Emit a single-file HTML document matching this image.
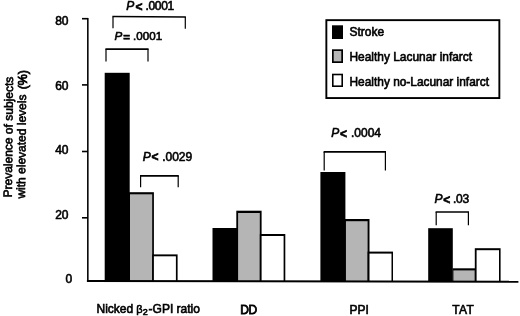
<!DOCTYPE html>
<html><head><meta charset="utf-8"><title>Figure</title>
<style>
html,body{margin:0;padding:0;background:#fff;}
body{width:520px;height:316px;overflow:hidden;}
svg{display:block;}
text{font-family:"Liberation Sans",sans-serif;font-size:12px;fill:#000;stroke:#000;stroke-width:0.6px;}
.i{font-style:italic;}
.b{font-weight:bold;}
</style></head><body>
<svg width="520" height="316" viewBox="0 0 520 316">
<rect width="520" height="316" fill="#fff"/>
<!-- bars -->
<g>
<rect x="129.0" y="192.2" width="24.9" height="89.3" fill="#000"/>
<rect x="130.0" y="194.3" width="22.2" height="87.2" fill="#b5b5b5"/>
<rect x="152.2" y="254.4" width="25.4" height="27.1" fill="#000"/>
<rect x="153.9" y="256.3" width="22.0" height="25.2" fill="#fff"/>
<rect x="104.7" y="72.8" width="25.0" height="208.7" fill="#000"/>
<rect x="236.3" y="210.7" width="25.3" height="70.8" fill="#000"/>
<rect x="238.1" y="213.0" width="21.7" height="68.5" fill="#b5b5b5"/>
<rect x="259.8" y="234.0" width="25.5" height="47.5" fill="#000"/>
<rect x="261.6" y="236.0" width="22.0" height="45.5" fill="#fff"/>
<rect x="212.5" y="228.0" width="24.9" height="53.5" fill="#000"/>
<rect x="345.0" y="219.0" width="24.5" height="62.5" fill="#000"/>
<rect x="345.9" y="221.2" width="21.7" height="60.3" fill="#b5b5b5"/>
<rect x="367.6" y="251.6" width="25.4" height="29.9" fill="#000"/>
<rect x="369.5" y="253.6" width="22.0" height="27.9" fill="#fff"/>
<rect x="320.4" y="172.0" width="25.0" height="109.5" fill="#000"/>
<rect x="452.5" y="268.3" width="24.1" height="13.2" fill="#000"/>
<rect x="453.4" y="270.4" width="21.4" height="11.1" fill="#b5b5b5"/>
<rect x="474.8" y="248.2" width="25.8" height="33.3" fill="#000"/>
<rect x="476.6" y="250.2" width="22.4" height="31.3" fill="#fff"/>
<rect x="428.2" y="228.2" width="24.6" height="53.3" fill="#000"/>
</g>
<!-- axes -->
<g fill="#000">
<rect x="87.05" y="18" width="1.55" height="263.8"/>
<polygon points="86.9,279.95 518.4,280.7 518.4,282.65 86.9,281.9"/>
<rect x="82" y="17.9" width="6" height="1.6"/>
<rect x="82" y="84.1" width="6" height="1.6"/>
<rect x="82" y="150.7" width="6" height="1.6"/>
<rect x="82" y="217" width="6" height="1.6"/>
</g>
<!-- brackets -->
<g fill="none" stroke="#000">
<path d="M112.4 16.5 L185.9 17.0" stroke-width="1.7"/><path d="M113.0 28.2 V16.7 M185.3 16.9 V28.8" stroke-width="1.2"/>
<path d="M105.4 49.2 H148.6" stroke-width="1.7"/><path d="M106.0 61.6 V49.2 M148.0 49.2 V61.6" stroke-width="1.2"/>
<path d="M140.0 175.9 H178.8" stroke-width="1.7"/><path d="M140.6 187.2 V175.9 M178.2 175.9 V187.2" stroke-width="1.2"/>
<path d="M323.6 151.9 H386.0" stroke-width="1.7"/><path d="M324.2 170.6 V151.9 M385.4 151.9 V170.6" stroke-width="1.2"/>
<path d="M435.59999999999997 212.0 H469.0" stroke-width="1.7"/><path d="M436.2 225.2 V212.0 M468.4 212.0 V225.2" stroke-width="1.2"/>
</g>
<!-- legend -->
<rect x="326.35" y="20.15" width="173" height="77.9" fill="#fff" stroke="#000" stroke-width="1.9"/>
<rect x="332" y="25.3" width="11" height="13.7" fill="#000"/>
<rect x="332.85" y="50.15" width="9.3" height="12" fill="#b5b5b5" stroke="#000" stroke-width="1.7"/>
<rect x="332.8" y="74.5" width="9.4" height="11.7" fill="#fff" stroke="#000" stroke-width="1.6"/>
<text x="349.5" y="35.8">Stroke</text>
<text x="349.5" y="61.3" textLength="122.6" lengthAdjust="spacingAndGlyphs">Healthy Lacunar infarct</text>
<text x="349.5" y="86.3" textLength="139.5" lengthAdjust="spacingAndGlyphs">Healthy no-Lacunar infarct</text>
<!-- y tick labels -->
<text x="55.2" y="24.7">80</text>
<text x="55.2" y="89.7">60</text>
<text x="55.2" y="154.1">40</text>
<text x="55.2" y="219">20</text>
<text x="65.6" y="282.8">0</text>
<!-- y axis label -->
<text transform="translate(11.8,197.5) rotate(-89.4)">Prevalence of subjects</text>
<text transform="translate(25.0,198.6) rotate(-89.4)">with elevated levels</text>
<text transform="translate(27.1,89.3) rotate(-90)" style="font-size:12.4px;stroke-width:0.75px">(%)</text>
<!-- p values -->
<text y="10.3"><tspan class="i" x="126.3">P</tspan><tspan class="b" x="135.5" dy="0.8">&lt;</tspan><tspan x="145.45" dy="-0.8" letter-spacing="-0.3">.0001</tspan></text>
<text y="40.1" style="font-size:11.6px"><tspan class="i" x="114.5">P</tspan><tspan class="b" x="123.3" dy="0.6">=</tspan><tspan x="133.1" dy="-0.6">.0001</tspan></text>
<text y="160.6"><tspan class="i" x="142.7">P</tspan><tspan class="b" x="151.6" dy="0.8">&lt;</tspan><tspan x="162.15" dy="-0.8">.0029</tspan></text>
<text y="136.7"><tspan class="i" x="331.2">P</tspan><tspan class="b" x="340.1" dy="0.8">&lt;</tspan><tspan x="351.0" dy="-0.8">.0004</tspan></text>
<text y="203.2"><tspan class="i" x="434.5">P</tspan><tspan class="b" x="443.3" dy="0.8">&lt;</tspan><tspan x="453.1" dy="-0.8" letter-spacing="-0.35">.03</tspan></text>
<!-- x labels -->
<text y="313"><tspan x="96.5">Nicked</tspan> <tspan x="136.3" font-size="11">β</tspan><tspan x="142.7" font-size="9" dy="1.8">2</tspan><tspan x="148.6" dy="-1.8">-GPI ratio</tspan></text>
<text x="240.3" y="313.9" letter-spacing="-0.5" style="stroke-width:0.8px">DD</text>
<text x="349.4" y="313.6">PPI</text>
<text x="452.3" y="313.6" letter-spacing="0.3">TAT</text>
</svg>
</body></html>
